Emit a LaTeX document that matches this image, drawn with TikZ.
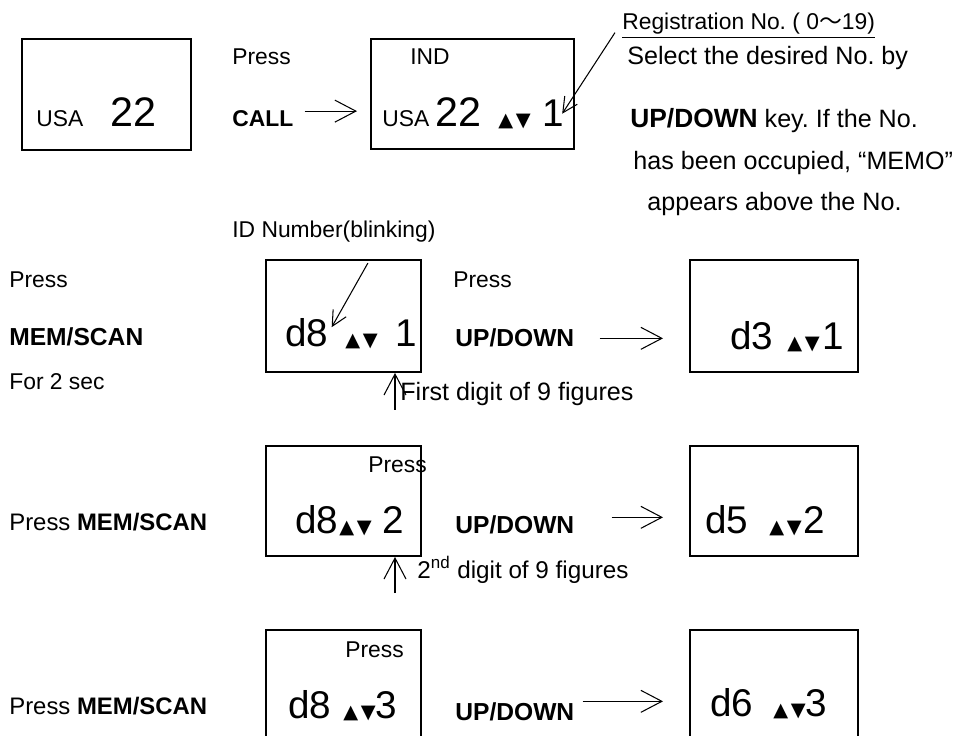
\documentclass[tikz,border=0pt]{standalone}
\usepackage{fontspec}
\setmainfont{Liberation Sans}
\newfontfamily\symf{DejaVu Sans}
\newfontfamily\cjk{Noto Sans CJK JP}
\usetikzlibrary{arrows.meta}
\frenchspacing

\newcommand{\updn}{{\symf\fontsize{11}{12}\selectfont ▲\kern1.5pt▼}}

\tikzset{
  lcd/.style={draw, line width=1.1pt, inner sep=0pt, anchor=north west},
  txt/.style={inner sep=0pt, anchor=base west, font=\fontsize{13}{15}\selectfont},
  note/.style={inner sep=0pt, anchor=base west, font=\fontsize{14.3}{16}\selectfont},
  keytxt/.style={inner sep=0pt, anchor=base west, font=\fontsize{14}{16}\selectfont\bfseries},
  digits/.style={inner sep=0pt, anchor=base west, font=\fontsize{22}{24}\selectfont},
  tri/.style={inner sep=0pt, anchor=base west},
  go/.style={-{Straight Barb[length=0.42cm,width=0.44cm]}, line width=0.6pt},
  ptr/.style={-{Straight Barb[length=0.3cm,width=0.3cm]}, line width=0.6pt},
}

\begin{document}
\begin{tikzpicture}[x=0.02cm, y=-0.02cm]
  \useasboundingbox (0,0) rectangle (967,736);
  \clip (0,0) rectangle (967,736);

  % first line: call up the registration number
  \node[lcd, minimum width=3.38cm, minimum height=2.22cm] (b1) at (21,38) {};
  \node[txt] (usa1) at (36,127) {USA};
  \node[digits, font=\fontsize{23.5}{25}\selectfont] (nA) at (110,127) {22};

  \node[txt] (press1) at (232,65) {Press};
  \node[keytxt, font=\fontsize{13}{15}\selectfont\bfseries] (call) at (232,127) {CALL};

  \node[lcd, minimum width=4.06cm, minimum height=2.2cm] (b2) at (370,38) {};
  \node[txt] (ind) at (410,65) {IND};
  \node[txt] (usa2) at (382,127) {USA};
  \node[digits, font=\fontsize{23.5}{25}\selectfont] (nB) at (435,127) {22};
  \node[tri] (tr1) at (498,127) {\updn};
  \node[digits] (reg1) at (542,127) {1};

  \draw[go] ([xshift=0.22cm,yshift=0.16cm]call.east) -- ([xshift=-0.26cm,yshift=0.16cm]call.east -| b2.west);

  \node[txt] (regno) at (622,30) {\underline{Registration No. ( 0{\cjk ～}19)}};
  \node[note] (sel) at (627,65) {Select the desired No. by};
  \node[note] (updn) at (630,128) {{\fontsize{15}{17}\selectfont\bfseries UP/DOWN} key. If the No.};
  \node[note] (occ) at (633,170) {has been occupied, “MEMO”};
  \node[note] (app) at (647,211) {appears above the No.};
  \draw[ptr] ([xshift=-0.14cm,yshift=0.12cm]regno.south west) -- ([xshift=-0.04cm]reg1.east);

  % second line: first digit
  \node[txt] (idn) at (232,238) {ID Number(blinking)};
  \node[txt] (press2) at (9,288) {Press};
  \node[keytxt] (mem1) at (9,346) {MEM/SCAN};
  \node[txt] (sec) at (9,390) {For 2 sec};

  \node[lcd, minimum width=3.1cm, minimum height=2.24cm] (b3) at (265,259) {};
  \node[digits] (dA) at (285,347) {d8};
  \node[tri] (tr2) at (345,347) {\updn};
  \node[digits] (regA) at (395,347) {1};
  \draw[ptr] ([xshift=0.68cm,yshift=-0.4cm]idn.south) -- ([xshift=0.06cm,yshift=0.12cm]dA.east);

  \node[txt] (press3) at (453,288) {Press};
  \node[keytxt] (ud1) at (455,347) {UP/DOWN};

  \node[lcd, minimum width=3.36cm, minimum height=2.24cm] (b4) at (689,259) {};
  \node[digits] (dB) at (730,350) {d3};
  \node[tri] (tr3) at (787,350) {\updn};
  \node[digits] (regB) at (822,350) {1};
  \draw[go] ([xshift=0.5cm]ud1.east) -- ([xshift=-0.52cm]ud1.east -| b4.west);

  \coordinate (u1) at (395,410);
  \draw[go] (u1) -- (u1 |- b3.south);
  \node[note] (first) at (400,400) {First digit of 9 figures};

  % third line: second digit
  \node[txt, font=\fontsize{13.6}{15}\selectfont] (mem2) at (9,530) {Press \textbf{MEM/SCAN}};
  \node[lcd, minimum width=3.1cm, minimum height=2.2cm] (b5) at (265,445) {};
  \node[txt] (press4) at (368,473) {Press};
  \node[digits] (dC) at (295,533) {d8};
  \node[tri] (tr4) at (339,533) {\updn};
  \node[digits] (regC) at (382,533) {2};
  \node[keytxt] (ud2) at (455,533) {UP/DOWN};

  \node[lcd, minimum width=3.36cm, minimum height=2.2cm] (b6) at (689,445) {};
  \node[digits] (dD) at (705,533) {d5};
  \node[tri] (tr5) at (769,533) {\updn};
  \node[digits] (regD) at (803,533) {2};
  \draw[go] ([xshift=0.74cm,yshift=0.14cm]ud2.east) -- ([xshift=-0.52cm,yshift=0.14cm]ud2.east -| b6.west);

  \coordinate (u2) at (395,593);
  \draw[go] (u2) -- (u2 |- b5.south);
  \node[txt, font=\fontsize{13.8}{15}\selectfont] (second) at (417,578) {2\textsuperscript{nd} digit of 9 figures};

  % fourth line: third digit
  \node[txt, font=\fontsize{13.6}{15}\selectfont] (mem3) at (9,714) {Press \textbf{MEM/SCAN}};
  \node[lcd, minimum width=3.1cm, minimum height=2.62cm] (b7) at (265,629) {};
  \node[txt] (press5) at (345,657) {Press};
  \node[digits] (dE) at (288,718) {d8};
  \node[tri] (tr6) at (343,718) {\updn};
  \node[digits] (regE) at (375,718) {3};
  \node[keytxt] (ud3) at (455,720) {UP/DOWN};

  \node[lcd, minimum width=3.36cm, minimum height=2.62cm] (b8) at (689,629) {};
  \node[digits] (dF) at (710,716) {d6};
  \node[tri] (tr7) at (773,716) {\updn};
  \node[digits] (regF) at (805,716) {3};
  \draw[go] ([xshift=0.16cm,yshift=0.2cm]ud3.east) -- ([xshift=-0.52cm,yshift=0.2cm]ud3.east -| b8.west);
\end{tikzpicture}
\end{document}
